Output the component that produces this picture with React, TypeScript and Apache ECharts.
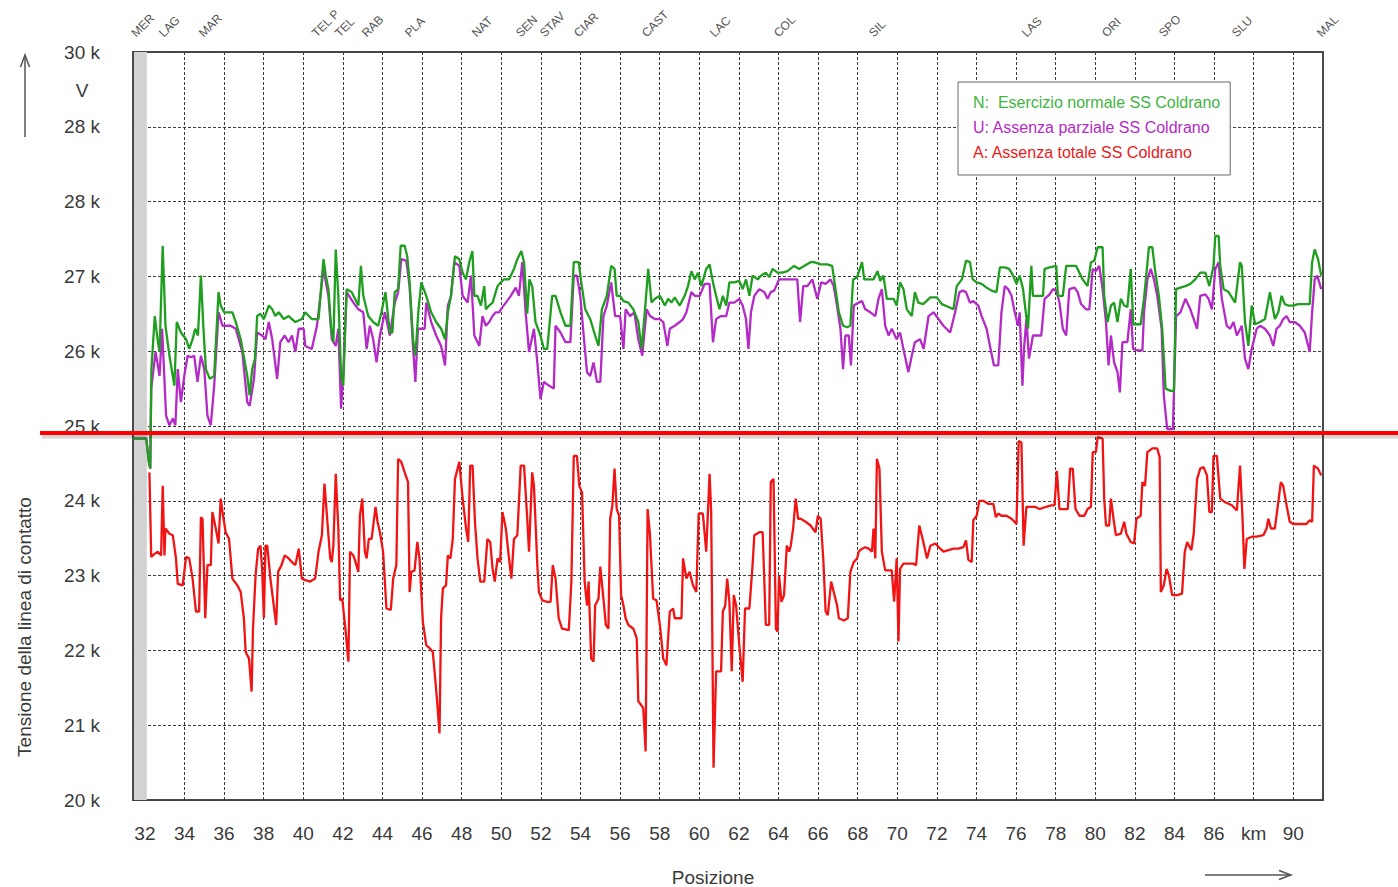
import { useEffect, useRef } from 'react';
import * as echarts from 'echarts';

const FONT = '"Liberation Sans", Arial, sans-serif';

// x axis (km) labels
const xTickValues = [32, 34, 36, 38, 40, 42, 44, 46, 48, 50, 52, 54, 56, 58, 60, 62, 64, 66, 68, 70, 72, 74, 76, 78, 80, 82, 84, 86, 88, 90];
const xTickLabels = ['32', '34', '36', '38', '40', '42', '44', '46', '48', '50', '52', '54', '56', '58', '60', '62', '64', '66', '68', '70', '72', '74', '76', '78', '80', '82', '84', '86', 'km', '90'];
// y axis labels (as printed on the original, including its repeated "28 k")
const yTickLabels = ['20 k', '21 k', '22 k', '23 k', '24 k', '25 k', '26 k', '27 k', '28 k', '28 k', '30 k'];

// stations along the line
const stationNames = ['MER', 'LAG', 'MAR', 'TEL P', 'TEL', 'RAB', 'PLA', 'NAT', 'SEN', 'STAV', 'CIAR', 'CAST', 'LAC', 'COL', 'SIL', 'LAS', 'ORI', 'SPO', 'SLU', 'MAL'];
const stationKm = [31.42, 32.81, 34.83, 40.54, 41.7, 43.06, 45.23, 48.62, 50.84, 52.05, 53.77, 57.2, 60.64, 63.87, 68.67, 76.39, 80.43, 83.31, 87.0, 91.29];

const seriesNames = ['N:  Esercizio normale SS Coldrano', 'U: Assenza parziale SS Coldrano', 'A: Assenza totale SS Coldrano'];
const seriesColors = ['#1f9e1f', '#b42ac6', '#f01414'];

// N: normal operation [km, V]
const normale: [number, number][] = [
  [31.40, 24830], [32.07, 24830], [32.20, 24520], [32.27, 24430], [32.33, 25760], [32.50, 26470], [32.64, 26160], [32.74, 25990], [32.90, 27410], [33.04, 26340], [33.24, 25940], [33.49, 25540], [33.61, 26390], [33.82, 26250], [34.08, 26160], [34.24, 26030], [34.41, 26160], [34.54, 26300], [34.68, 26210], [34.83, 27010], [34.95, 26340], [35.08, 25760], [35.28, 25630], [35.50, 25670], [35.72, 26790], [35.83, 26610], [36.00, 26520], [36.42, 26520], [36.59, 26390], [36.84, 26160], [37.17, 25670], [37.29, 25410], [37.42, 25760], [37.56, 25900], [37.67, 26470], [37.84, 26500], [38.01, 26430], [38.26, 26610], [38.43, 26560], [38.59, 26470], [38.76, 26520], [39.01, 26430], [39.26, 26470], [39.60, 26390], [39.93, 26430], [40.10, 26520], [40.43, 26430], [40.77, 26430], [41.02, 27230], [41.14, 27010], [41.27, 26830], [41.41, 26300], [41.52, 26120], [41.64, 27360], [41.77, 26740], [41.91, 25670], [42.02, 25540], [42.11, 26250], [42.19, 26830], [42.44, 26790], [42.78, 26610], [42.91, 27140], [43.03, 26740], [43.28, 26470], [43.53, 26390], [43.78, 26340], [43.95, 26520], [44.15, 26790], [44.37, 26250], [44.50, 26250], [44.62, 26790], [44.79, 26830], [44.92, 27410], [45.12, 27410], [45.25, 27270], [45.37, 26920], [45.54, 26160], [45.66, 25940], [45.82, 26560], [45.96, 26920], [46.21, 26740], [46.46, 26520], [46.71, 26390], [46.96, 26300], [47.16, 26160], [47.30, 26520], [47.46, 26740], [47.66, 27270], [47.88, 27230], [48.05, 27050], [48.22, 26960], [48.38, 27190], [48.54, 27340], [48.64, 26740], [48.80, 26740], [48.97, 26610], [49.14, 26870], [49.22, 26560], [49.39, 26610], [49.56, 26650], [49.81, 26870], [49.97, 26920], [50.14, 26960], [50.39, 26960], [50.64, 27100], [50.81, 27230], [51.01, 27340], [51.15, 27190], [51.31, 26500], [51.42, 26960], [51.56, 26870], [51.73, 26390], [51.98, 26210], [52.15, 26030], [52.32, 26030], [52.57, 26740], [52.74, 26740], [52.99, 26520], [53.24, 26340], [53.49, 26340], [53.66, 27190], [53.91, 27190], [54.04, 26920], [54.24, 26560], [54.49, 26430], [54.74, 26210], [54.91, 26070], [55.08, 26560], [55.33, 26740], [55.55, 27140], [55.72, 27100], [55.83, 26740], [56.00, 26740], [56.17, 26670], [56.42, 26650], [56.67, 26560], [56.92, 26390], [57.09, 26030], [57.26, 26560], [57.42, 27100], [57.59, 26650], [57.76, 26700], [58.01, 26740], [58.26, 26610], [58.43, 26700], [58.59, 26650], [58.76, 26720], [59.01, 26610], [59.26, 26740], [59.43, 26870], [59.60, 27070], [59.77, 26960], [59.93, 27050], [60.10, 26870], [60.35, 27100], [60.52, 27160], [60.69, 26920], [60.85, 26740], [61.02, 26560], [61.19, 26740], [61.36, 26610], [61.52, 26920], [61.77, 26920], [62.02, 26940], [62.19, 26830], [62.36, 26960], [62.53, 26740], [62.69, 27010], [62.95, 26960], [63.11, 27010], [63.36, 27050], [63.53, 26990], [63.70, 27100], [63.95, 27050], [64.20, 27050], [64.45, 27070], [64.79, 27140], [65.04, 27100], [65.29, 27140], [65.62, 27190], [65.79, 27190], [66.13, 27160], [66.46, 27160], [66.71, 27140], [66.88, 26830], [67.05, 26520], [67.26, 26340], [67.46, 26320], [67.63, 26340], [67.77, 26960], [67.97, 26990], [68.22, 27190], [68.33, 26960], [68.55, 26960], [68.80, 26960], [69.00, 27070], [69.14, 26940], [69.30, 27010], [69.47, 26700], [69.64, 26700], [69.81, 26700], [69.97, 26610], [70.14, 26920], [70.31, 26830], [70.48, 26560], [70.73, 26470], [70.89, 26790], [71.06, 26650], [71.31, 26630], [71.67, 26720], [72.00, 26720], [72.25, 26630], [72.59, 26590], [72.84, 26560], [73.00, 26870], [73.26, 26960], [73.47, 27210], [73.67, 27190], [73.81, 26960], [74.01, 26920], [74.26, 26900], [74.51, 26850], [74.76, 26810], [75.01, 26790], [75.18, 27120], [75.43, 27120], [75.65, 27100], [75.85, 27010], [76.02, 26900], [76.18, 27010], [76.35, 26830], [76.49, 26520], [76.60, 26300], [76.77, 27140], [76.85, 26740], [77.10, 26740], [77.36, 26740], [77.44, 27100], [77.69, 27120], [78.03, 27140], [78.11, 26740], [78.36, 26740], [78.53, 27140], [78.78, 27140], [79.03, 27140], [79.20, 27050], [79.36, 26960], [79.61, 26870], [79.78, 27190], [79.95, 27210], [80.12, 27390], [80.37, 27390], [80.45, 26740], [80.62, 26390], [80.79, 26610], [80.95, 26650], [81.12, 26390], [81.29, 26700], [81.46, 26610], [81.62, 26590], [81.79, 27100], [81.92, 26360], [82.13, 26360], [82.29, 26360], [82.46, 26700], [82.71, 27390], [82.88, 27390], [83.01, 27100], [83.21, 26740], [83.38, 26300], [83.55, 25500], [83.80, 25470], [83.97, 25470], [84.08, 26830], [84.30, 26850], [84.55, 26870], [84.80, 26900], [85.05, 26960], [85.30, 27050], [85.56, 27050], [85.76, 26870], [85.97, 27140], [86.06, 27540], [86.23, 27540], [86.31, 27140], [86.48, 26830], [86.73, 26790], [87.06, 26650], [87.31, 27190], [87.40, 27140], [87.56, 26390], [87.73, 26070], [87.90, 26610], [88.07, 26360], [88.32, 26390], [88.57, 26430], [88.82, 26790], [88.94, 26610], [89.07, 26430], [89.24, 26520], [89.41, 26740], [89.57, 26630], [89.74, 26610], [89.99, 26610], [90.24, 26630], [90.58, 26630], [90.83, 26630], [90.95, 27190], [91.08, 27360], [91.25, 27230], [91.41, 27010],
];

// U: partial absence [km, V]
const parziale: [number, number][] = [
  [31.40, 24830], [32.07, 24830], [32.20, 24520], [32.27, 24430], [32.32, 25500], [32.54, 25990], [32.74, 25670], [32.87, 26300], [33.07, 25140], [33.24, 25010], [33.41, 25100], [33.54, 25010], [33.66, 25760], [33.82, 25320], [33.99, 25670], [34.16, 25940], [34.33, 25920], [34.49, 25940], [34.66, 25590], [34.83, 25940], [35.00, 25760], [35.16, 25140], [35.33, 25010], [35.50, 25540], [35.72, 26520], [35.92, 26340], [36.33, 26340], [36.59, 26300], [36.92, 25990], [37.17, 25320], [37.29, 25270], [37.51, 25630], [37.67, 26250], [37.92, 26210], [38.09, 26160], [38.26, 26390], [38.43, 26160], [38.68, 25630], [38.84, 26120], [39.06, 26210], [39.26, 26120], [39.43, 26210], [39.60, 25990], [39.77, 26300], [40.02, 26300], [40.10, 26070], [40.43, 26030], [40.69, 26340], [40.85, 26700], [41.02, 27100], [41.27, 26740], [41.44, 26160], [41.64, 26070], [41.77, 26300], [41.91, 25230], [42.02, 25720], [42.19, 26790], [42.53, 26650], [42.78, 26560], [43.03, 26520], [43.20, 26030], [43.36, 26340], [43.53, 26160], [43.70, 25850], [43.87, 26210], [44.12, 26520], [44.37, 26210], [44.62, 26650], [44.79, 26790], [44.95, 27230], [45.20, 27210], [45.37, 26870], [45.54, 26070], [45.66, 25590], [45.79, 26300], [46.13, 26300], [46.21, 26650], [46.46, 26390], [46.71, 26210], [46.96, 26070], [47.16, 25810], [47.30, 26610], [47.46, 26740], [47.63, 27190], [47.88, 27140], [48.05, 26740], [48.30, 26650], [48.47, 27010], [48.64, 26210], [48.89, 26070], [49.05, 26470], [49.22, 26340], [49.39, 26390], [49.56, 26470], [49.72, 26520], [49.89, 26520], [50.06, 26590], [50.23, 26650], [50.48, 26740], [50.73, 26850], [50.89, 26740], [51.06, 27190], [51.23, 26520], [51.40, 25990], [51.65, 26300], [51.82, 25850], [51.98, 25360], [52.15, 25590], [52.40, 25540], [52.65, 25500], [52.74, 26340], [52.99, 26250], [53.24, 26120], [53.49, 26120], [53.66, 27010], [53.82, 27010], [53.99, 26740], [54.16, 26210], [54.33, 25720], [54.49, 25670], [54.66, 25850], [54.83, 25590], [55.00, 25590], [55.16, 26470], [55.33, 26610], [55.55, 26920], [55.75, 26470], [56.00, 26470], [56.17, 26030], [56.28, 26560], [56.50, 26470], [56.72, 26520], [56.92, 26160], [57.12, 25940], [57.34, 26560], [57.51, 26470], [57.76, 26430], [58.01, 26430], [58.18, 26390], [58.39, 26070], [58.51, 26300], [58.76, 26340], [59.01, 26390], [59.18, 26430], [59.35, 26520], [59.60, 26790], [59.77, 26740], [60.02, 26740], [60.27, 26900], [60.52, 26900], [60.69, 26120], [60.85, 26430], [61.10, 26470], [61.36, 26470], [61.52, 26650], [61.77, 26650], [62.02, 26700], [62.19, 26610], [62.36, 26430], [62.48, 26030], [62.61, 26520], [62.78, 26740], [63.03, 26830], [63.28, 26790], [63.45, 26700], [63.61, 26790], [63.78, 26810], [64.03, 26960], [64.28, 26960], [64.62, 26960], [64.95, 26960], [65.09, 26390], [65.25, 26870], [65.46, 26870], [65.71, 26960], [65.96, 26700], [66.16, 26920], [66.38, 26900], [66.63, 26960], [66.79, 26870], [66.93, 26650], [67.13, 26300], [67.26, 25760], [67.38, 26210], [67.55, 26210], [67.66, 25810], [67.80, 26610], [68.05, 26650], [68.22, 26670], [68.38, 26560], [68.64, 26520], [68.89, 26470], [69.05, 26700], [69.22, 26830], [69.39, 26340], [69.56, 26210], [69.72, 26300], [69.97, 26160], [70.14, 26250], [70.31, 26030], [70.56, 25720], [70.73, 25940], [70.89, 26120], [71.15, 26160], [71.33, 26030], [71.58, 26470], [71.83, 26520], [72.08, 26430], [72.33, 26340], [72.67, 26250], [72.92, 26520], [73.14, 26790], [73.31, 26810], [73.47, 26790], [73.67, 26650], [73.84, 26670], [74.09, 26610], [74.26, 26470], [74.51, 26300], [74.68, 26070], [74.88, 25810], [75.10, 25810], [75.26, 26520], [75.43, 26870], [75.60, 26830], [75.77, 26740], [75.93, 26520], [76.10, 26340], [76.18, 26520], [76.32, 25540], [76.40, 26030], [76.52, 26430], [76.65, 25900], [76.85, 26210], [77.10, 26210], [77.27, 26210], [77.44, 26700], [77.69, 26760], [77.86, 26830], [78.03, 26810], [78.19, 26650], [78.36, 26300], [78.53, 26210], [78.69, 26830], [78.95, 26850], [79.11, 26790], [79.28, 26630], [79.53, 26560], [79.70, 26560], [79.87, 27100], [80.03, 27070], [80.20, 27140], [80.37, 26830], [80.54, 26390], [80.67, 25810], [80.79, 26210], [80.95, 25850], [81.12, 25720], [81.24, 25450], [81.37, 26120], [81.62, 26120], [81.79, 26560], [81.91, 26030], [82.13, 26010], [82.38, 26010], [82.46, 26520], [82.63, 26960], [82.80, 27100], [82.96, 26960], [83.13, 26740], [83.35, 26300], [83.46, 25410], [83.63, 24960], [83.92, 24960], [84.08, 26470], [84.30, 26520], [84.55, 26700], [84.80, 26560], [84.97, 26430], [85.14, 26300], [85.30, 26740], [85.56, 26760], [85.72, 26700], [85.89, 26560], [86.06, 27100], [86.23, 27190], [86.39, 26700], [86.64, 26340], [86.81, 26300], [86.98, 26390], [87.15, 26210], [87.40, 26340], [87.56, 25900], [87.73, 25760], [87.90, 26030], [88.15, 26300], [88.32, 26340], [88.57, 26300], [88.82, 26210], [88.99, 26070], [89.15, 26300], [89.32, 26340], [89.49, 26430], [89.66, 26470], [89.82, 26390], [90.07, 26390], [90.33, 26340], [90.58, 26250], [90.83, 25990], [90.95, 26520], [91.08, 26960], [91.21, 27010], [91.41, 26830],
];

// A: total absence [km, V]
const totale: [number, number][] = [
  [32.23, 24380], [32.32, 23250], [32.49, 23290], [32.65, 23320], [32.82, 23270], [32.90, 24200], [32.99, 23270], [33.04, 23630], [33.24, 23560], [33.41, 23540], [33.57, 23230], [33.66, 22890], [33.91, 22870], [34.08, 23250], [34.24, 23230], [34.41, 22960], [34.58, 22520], [34.74, 22520], [34.83, 23780], [34.91, 23760], [35.05, 22430], [35.16, 23140], [35.33, 23140], [35.41, 23850], [35.58, 23630], [35.72, 23430], [35.83, 24030], [35.92, 23850], [36.08, 23580], [36.25, 23490], [36.42, 22960], [36.67, 22870], [36.84, 22780], [37.00, 22430], [37.09, 21980], [37.26, 21890], [37.39, 21450], [37.46, 22290], [37.59, 23000], [37.72, 23360], [37.84, 23400], [37.92, 23090], [38.01, 22430], [38.09, 23400], [38.18, 23400], [38.34, 22960], [38.51, 22600], [38.63, 22340], [38.73, 23050], [38.90, 23140], [39.06, 23270], [39.26, 23230], [39.43, 23180], [39.60, 23140], [39.77, 23360], [39.93, 22960], [40.10, 22940], [40.35, 22920], [40.60, 22960], [40.77, 23320], [40.94, 23540], [41.07, 24230], [41.27, 23540], [41.36, 23230], [41.44, 23180], [41.52, 23400], [41.64, 24360], [41.77, 23630], [41.86, 22670], [41.97, 22690], [42.14, 22250], [42.28, 21850], [42.36, 23320], [42.53, 23270], [42.64, 23180], [42.78, 23050], [42.86, 23800], [42.98, 24030], [43.11, 23320], [43.20, 23230], [43.31, 23490], [43.45, 23490], [43.65, 23920], [43.75, 23720], [43.87, 23580], [44.03, 23320], [44.20, 22560], [44.42, 22540], [44.54, 22960], [44.70, 23140], [44.79, 24560], [44.95, 24520], [45.12, 24380], [45.29, 24250], [45.37, 22780], [45.46, 23050], [45.62, 23070], [45.76, 23450], [45.87, 23230], [46.04, 22380], [46.21, 22070], [46.38, 22030], [46.54, 21980], [46.66, 21630], [46.76, 21320], [46.88, 20890], [46.96, 22430], [47.05, 22830], [47.21, 22870], [47.30, 23270], [47.43, 23230], [47.55, 23490], [47.66, 24290], [47.88, 24520], [48.05, 24030], [48.22, 23630], [48.33, 23450], [48.43, 24470], [48.55, 24470], [48.67, 23720], [48.80, 23230], [48.94, 22920], [49.14, 22920], [49.30, 23490], [49.44, 23450], [49.56, 23090], [49.67, 22920], [49.81, 23230], [49.94, 23180], [50.06, 23850], [50.23, 23630], [50.39, 23230], [50.51, 22960], [50.64, 23490], [50.81, 23540], [50.98, 24470], [51.15, 24470], [51.31, 23760], [51.40, 23320], [51.56, 24380], [51.65, 24200], [51.82, 23140], [51.90, 22780], [52.07, 22670], [52.32, 22650], [52.49, 22650], [52.60, 23140], [52.74, 22960], [52.90, 22430], [53.07, 22290], [53.41, 22270], [53.54, 22920], [53.66, 24600], [53.82, 24600], [53.94, 24200], [54.08, 24110], [54.21, 22920], [54.33, 22600], [54.41, 22920], [54.54, 21890], [54.66, 21850], [54.74, 22600], [54.91, 22690], [55.00, 23120], [55.16, 22690], [55.28, 22340], [55.41, 22290], [55.50, 23760], [55.61, 23940], [55.72, 24430], [55.83, 23890], [55.95, 23800], [56.05, 22740], [56.17, 22600], [56.28, 22430], [56.42, 22340], [56.67, 22290], [56.84, 22160], [56.92, 21320], [57.17, 21230], [57.29, 20650], [57.39, 23890], [57.51, 23540], [57.67, 22690], [57.84, 22670], [58.01, 22340], [58.18, 21890], [58.34, 21800], [58.51, 22520], [58.68, 22560], [58.76, 22430], [59.10, 22430], [59.18, 23230], [59.35, 22960], [59.51, 23050], [59.68, 22870], [59.85, 22780], [59.97, 23830], [60.18, 23830], [60.35, 23320], [60.52, 24360], [60.60, 23850], [60.72, 20430], [60.85, 21720], [61.10, 21720], [61.19, 22520], [61.31, 22600], [61.41, 22960], [61.52, 22650], [61.64, 21720], [61.74, 22740], [61.86, 22600], [62.02, 22070], [62.19, 21580], [62.31, 22560], [62.53, 22560], [62.69, 23140], [62.78, 23540], [63.03, 23580], [63.20, 23580], [63.36, 22340], [63.53, 22340], [63.61, 24250], [63.75, 24290], [63.87, 22290], [63.95, 22250], [64.03, 23000], [64.15, 22650], [64.28, 22740], [64.42, 23400], [64.54, 23320], [64.62, 23400], [64.74, 23630], [64.87, 24030], [64.99, 23760], [65.12, 23760], [65.37, 23720], [65.62, 23670], [65.87, 23580], [65.99, 23800], [66.13, 23760], [66.26, 23230], [66.38, 22520], [66.49, 22470], [66.66, 22920], [66.79, 22780], [66.96, 22600], [67.05, 22430], [67.30, 22400], [67.50, 22430], [67.63, 23050], [67.80, 23180], [67.97, 23230], [68.05, 23320], [68.22, 23360], [68.38, 23380], [68.55, 23360], [68.72, 23320], [68.80, 23630], [68.89, 23230], [68.97, 24560], [69.10, 24430], [69.22, 23320], [69.39, 23070], [69.56, 23070], [69.72, 23070], [69.84, 22650], [69.97, 23230], [70.06, 22120], [70.14, 23090], [70.31, 23160], [70.56, 23160], [70.81, 23160], [70.95, 23140], [71.11, 23670], [71.28, 23490], [71.50, 23230], [71.67, 23400], [71.92, 23430], [72.17, 23360], [72.33, 23320], [72.59, 23340], [72.84, 23360], [73.09, 23360], [73.34, 23380], [73.47, 23470], [73.59, 23210], [73.76, 23180], [73.84, 23740], [74.01, 23800], [74.14, 24000], [74.34, 24000], [74.59, 23960], [74.85, 23960], [74.98, 23780], [75.10, 23830], [75.26, 23800], [75.51, 23800], [75.77, 23760], [76.02, 23690], [76.13, 24800], [76.27, 24780], [76.38, 23400], [76.52, 23920], [76.69, 23920], [76.94, 23920], [77.19, 23890], [77.52, 23920], [77.77, 23940], [77.94, 23940], [78.06, 24400], [78.19, 23890], [78.36, 23890], [78.61, 23890], [78.73, 24430], [78.86, 24430], [79.00, 23890], [79.20, 23800], [79.45, 23800], [79.61, 23890], [79.78, 23920], [79.87, 24650], [80.03, 24650], [80.12, 24850], [80.37, 24830], [80.45, 24030], [80.54, 23670], [80.70, 23670], [80.79, 24030], [80.92, 23760], [81.04, 23540], [81.29, 23560], [81.46, 23720], [81.57, 23560], [81.79, 23450], [81.96, 23430], [82.08, 23760], [82.29, 23800], [82.38, 24250], [82.51, 24200], [82.63, 24650], [82.88, 24700], [83.13, 24700], [83.25, 24580], [83.31, 22780], [83.46, 22870], [83.60, 23090], [83.72, 23000], [83.88, 22740], [84.13, 22740], [84.38, 22760], [84.52, 23320], [84.64, 23450], [84.85, 23340], [84.97, 23560], [85.14, 24290], [85.30, 24430], [85.47, 24450], [85.64, 24340], [85.76, 23850], [85.89, 23850], [85.97, 24600], [86.14, 24600], [86.31, 24030], [86.56, 23980], [86.90, 23940], [87.15, 23870], [87.31, 24470], [87.43, 23800], [87.53, 23090], [87.65, 23490], [87.90, 23520], [88.15, 23520], [88.49, 23540], [88.65, 23630], [88.74, 23760], [88.87, 23630], [89.07, 23630], [89.24, 23980], [89.37, 24250], [89.49, 24200], [89.66, 23940], [89.82, 23720], [89.99, 23690], [90.24, 23690], [90.49, 23690], [90.66, 23690], [90.83, 23740], [90.95, 23720], [91.04, 24470], [91.25, 24430], [91.41, 24340],
];

const X_MIN = 31.4;
const X_MAX = 91.5;
const GRAY_BAND_END = 32.1;

export default function App() {
  const ref = useRef<HTMLDivElement>(null);

  useEffect(() => {
    document.body.style.margin = '0';
    const chart = echarts.init(ref.current!, null, { renderer: 'svg' });
    const textColor = '#3a3a3a';
    chart.setOption({
      animation: false,
      backgroundColor: '#ffffff',
      textStyle: { fontFamily: FONT },
      grid: {
        left: 133, top: 52, right: 75, bottom: 87,
        show: true, borderColor: '#4a4a4a', borderWidth: 2, backgroundColor: 'transparent',
      },
      legend: {
        orient: 'vertical',
        left: 958, top: 82,
        backgroundColor: '#ffffff',
        borderColor: '#666666', borderWidth: 1,
        padding: [12, 10, 15, 10],
        itemGap: 9, itemWidth: 0, itemHeight: 14,
        icon: 'none',
        selectedMode: false,
        textStyle: { fontSize: 16, fontFamily: FONT },
        data: [
          { name: seriesNames[0], textStyle: { color: '#3fb53f' } },
          { name: seriesNames[1], textStyle: { color: '#b42ac6' } },
          { name: seriesNames[2], textStyle: { color: '#e82020' } },
        ],
      },
      xAxis: [
        {
          type: 'value', min: X_MIN, max: X_MAX, position: 'bottom',
          axisLine: { show: false },
          axisTick: { show: false, customValues: xTickValues },
          axisLabel: {
            customValues: xTickValues,
            margin: 24, fontSize: 19, color: textColor, fontFamily: FONT,
            formatter: (v: number) => {
              const i = xTickValues.findIndex((t) => Math.abs(t - v) < 1e-6);
              return i >= 0 ? xTickLabels[i] : '';
            },
          },
          splitLine: { show: true, lineStyle: { color: '#3c3c3c', type: [3, 2], width: 1 } },
        },
        {
          type: 'value', min: X_MIN, max: X_MAX, position: 'top',
          axisLine: { show: false },
          axisTick: { show: false, customValues: stationKm },
          splitLine: { show: false },
          axisLabel: {
            customValues: stationKm,
            rotate: -45, margin: 17, fontSize: 12, color: '#555555', fontFamily: FONT,
            formatter: (v: number) => {
              const i = stationKm.findIndex((t) => Math.abs(t - v) < 1e-6);
              return i >= 0 ? stationNames[i] : '';
            },
          },
        },
      ],
      yAxis: {
        type: 'value', min: 20000, max: 30000, interval: 1000,
        axisLine: { show: false },
        axisTick: { show: false },
        axisLabel: {
          margin: 33, fontSize: 19, color: textColor, fontFamily: FONT,
          formatter: (v: number) => yTickLabels[Math.round((v - 20000) / 1000)] ?? '',
        },
        splitLine: { show: true, lineStyle: { color: '#3c3c3c', type: [3, 2], width: 1 } },
      },
      series: [
        {
          name: seriesNames[2], type: 'line', data: totale, symbol: 'none',
          lineStyle: { color: seriesColors[2], width: 2.3 }, itemStyle: { color: seriesColors[2] },
          markArea: {
            silent: true,
            itemStyle: { color: '#d2d2d2' },
            data: [[{ xAxis: X_MIN + 0.05 }, { xAxis: GRAY_BAND_END }]],
          },
          z: 2,
        },
        {
          name: seriesNames[1], type: 'line', data: parziale, symbol: 'none',
          lineStyle: { color: seriesColors[1], width: 2.3 }, itemStyle: { color: seriesColors[1] }, z: 3,
        },
        {
          name: seriesNames[0], type: 'line', data: normale, symbol: 'none',
          lineStyle: { color: seriesColors[0], width: 2.3 }, itemStyle: { color: seriesColors[0] }, z: 4,
        },
      ],
      graphic: [
        // y axis title
        {
          type: 'text', x: 24, y: 627, rotation: Math.PI / 2,
          style: { text: 'Tensione della linea di contatto', fill: textColor, font: `19px ${FONT}`, align: 'center', verticalAlign: 'middle' },
        },
        { type: 'text', x: 82, y: 90, style: { text: 'V', fill: textColor, font: `19px ${FONT}`, align: 'center', verticalAlign: 'middle' } },
        // up arrow
        { type: 'line', shape: { x1: 25, y1: 137, x2: 25, y2: 57 }, style: { stroke: '#555', lineWidth: 1.5 } },
        { type: 'polyline', shape: { points: [[20.5, 67], [25, 55], [29.5, 67]] }, style: { stroke: '#555', lineWidth: 1.5, fill: 'none' } },
        // x axis title
        { type: 'text', x: 713, y: 877, style: { text: 'Posizione', fill: textColor, font: `19px ${FONT}`, align: 'center', verticalAlign: 'middle' } },
        // right arrow
        { type: 'line', shape: { x1: 1205, y1: 875, x2: 1289, y2: 875 }, style: { stroke: '#555', lineWidth: 1.5 } },
        { type: 'polyline', shape: { points: [[1279, 870.5], [1291, 875], [1279, 879.5]] }, style: { stroke: '#555', lineWidth: 1.5, fill: 'none' } },
        // red highlight line across the chart, with a soft grey shadow underneath
        {
          type: 'line', z: 99,
          shape: { x1: 42, y1: 436.5, x2: 1398, y2: 436.5 },
          style: { stroke: 'rgba(0,0,0,0.16)', lineWidth: 4 },
        },
        {
          type: 'line', z: 100,
          shape: { x1: 40, y1: 433, x2: 1398, y2: 433 },
          style: { stroke: '#ff0000', lineWidth: 4 },
        },
      ],
    });
    return () => chart.dispose();
  }, []);

  return <div ref={ref} style={{ width: 1398, height: 887 }} />;
}
